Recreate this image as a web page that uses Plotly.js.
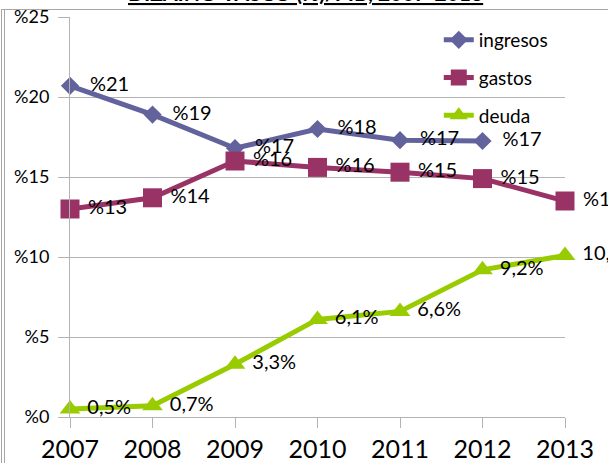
<!DOCTYPE html>
<html>
<head>
<meta charset="utf-8">
<script src="https://cdn.plot.ly/plotly-3.0.1.min.js"></script>
<style>html,body{margin:0;padding:0;background:#fff;}#chart{width:608px;height:463px;}</style>
</head>
<body>
<div id="chart"></div>
<script>
const years = ["2007", "2008", "2009", "2010", "2011", "2012", "2013"];
const ingresos = [20.7, 18.9, 16.8, 18.0, 17.3, 17.25, null];
const gastos = [13.0, 13.7, 16.0, 15.6, 15.3, 14.9, 13.5];
const deuda = [0.5, 0.7, 3.3, 6.1, 6.6, 9.2, 10.1];
const seriesNames = ["ingresos", "gastos", "deuda"];
const titleText = "DIZAINO VASCO (%)/PIB, 2007-2013";

const NB = "\u00a0";
const pctPrefix = v => (v === null ? "" : "%" + Math.round(v));
const pctComma = v => (v === null ? "" : v.toFixed(1).replace(".", ",") + "%");

const FONT = "Lato, 'Open Sans', sans-serif";
const GRID = "#b3b3b3";

const mk = (name, y, color, symbol, size, textFn, pad) => ({
  type: "scatter",
  mode: "lines+markers+text",
  name: name,
  x: years,
  y: y,
  text: y.map(v => (v === null ? "" : pad + textFn(v))),
  textposition: "middle right",
  textfont: {family: FONT, size: 20, color: "#000"},
  line: {color: color, width: 5},
  marker: {color: color, symbol: symbol, size: size},
  cliponaxis: false,
  legendgroup: name,
  hoverinfo: "x+y"
});

const data = [
  mk(seriesNames[0], ingresos, "#62629c", "diamond", 14, pctPrefix, NB + NB),
  mk(seriesNames[1], gastos, "#993366", "square", 19, pctPrefix, NB),
  mk(seriesNames[2], deuda, "#99cc00", "triangle-up", 18, pctComma, NB)
];

const layout = {
  width: 608,
  height: 463,
  margin: {l: 70, r: 43, t: 17, b: 46},
  paper_bgcolor: "#fff",
  plot_bgcolor: "rgba(0,0,0,0)",
  font: {family: FONT, color: "#000"},
  showlegend: true,
  legend: {
    x: 0.745, y: 0.99, xanchor: "left", yanchor: "top",
    bgcolor: "rgba(0,0,0,0)",
    font: {family: FONT, size: 19, color: "#000"},
    tracegroupgap: 10
  },
  xaxis: {
    type: "category",
    range: [0, 6],
    showgrid: false,
    zeroline: false,
    showline: true,
    linecolor: GRID,
    linewidth: 1,
    ticks: "outside",
    ticklen: 10,
    tickcolor: GRID,
    tickfont: {family: FONT, size: 25, color: "#000"},
    fixedrange: true
  },
  yaxis: {
    range: [0, 25],
    dtick: 5,
    tickprefix: "%",
    showgrid: true,
    gridcolor: GRID,
    gridwidth: 1,
    zeroline: false,
    showline: true,
    linecolor: GRID,
    linewidth: 1,
    ticks: "outside",
    ticklen: 11,
    tickcolor: GRID,
    ticklabelstandoff: 5,
    tickfont: {family: FONT, size: 18, color: "#000"},
    fixedrange: true
  },
  annotations: [{
    text: "<b><u>" + titleText + "</u></b>",
    xref: "paper", yref: "paper",
    x: 0.475, y: 1.026, xanchor: "center", yanchor: "bottom",
    showarrow: false,
    font: {family: FONT, size: 21, color: "#000"}
  }],
  shapes: [
    {type: "line", xref: "paper", yref: "paper", x0: -0.1394, x1: 1.2, y0: 1.01875, y1: 1.01875, line: {color: "#a6a6a6", width: 1}},
    {type: "line", xref: "paper", yref: "paper", x0: -0.1384, x1: -0.1384, y0: -0.2, y1: 1.01875, line: {color: "#a6a6a6", width: 1}},
    {type: "line", xref: "paper", yref: "paper", x0: -0.1323, x1: -0.1323, y0: -0.2, y1: 1.01875, line: {color: "#a6a6a6", width: 1}}
  ]
};

Plotly.newPlot("chart", data, layout, {displayModeBar: false, staticPlot: true});
</script>
</body>
</html>
